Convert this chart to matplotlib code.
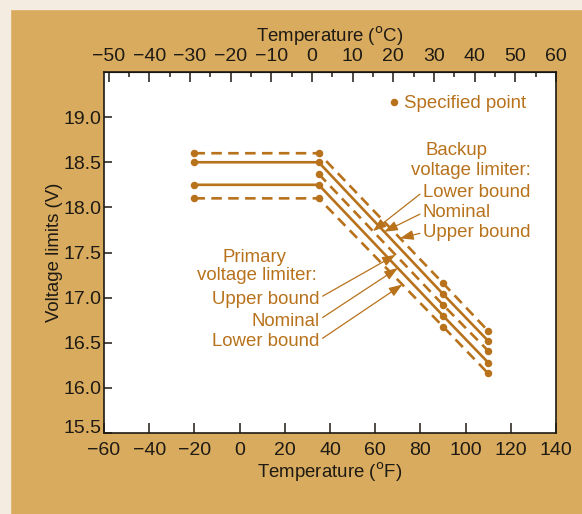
import matplotlib
matplotlib.use("Agg")
import matplotlib.pyplot as plt
import numpy as np

plt.rcParams['font.family'] = ['Liberation Sans', 'DejaVu Sans']

# voltage limit curves: temperature (deg F) vs volts
bk_upper_f = [-20, 35, 90, 110]
bk_upper_v = [18.60, 18.60, 17.16, 16.63]
bk_nom_f = [-20, 35, 90, 110]
bk_nom_v = [18.50, 18.50, 17.04, 16.52]
shared_f = [35, 90, 110]          # backup lower bound / primary upper bound
shared_v = [18.37, 16.92, 16.41]
pr_nom_f = [-20, 35, 90, 110]
pr_nom_v = [18.25, 18.25, 16.80, 16.28]
pr_lower_f = [-20, 35, 90, 110]
pr_lower_v = [18.10, 18.10, 16.68, 16.16]

f_ticks = np.arange(-60, 141, 20)
c_ticks = np.arange(-50, 61, 10)
c_minor = np.arange(-45, 60, 10)
v_ticks = np.arange(15.5, 19.01, 0.5)

backup_labels = ["Lower bound", "Nominal", "Upper bound"]
primary_labels = ["Upper bound", "Nominal", "Lower bound"]

BG = "#d9ab5e"
LINE = "#b8721c"
TXT = "#1e1a14"

fig = plt.figure(figsize=(5.82, 5.14), dpi=100, facecolor=BG)
# lighter scan margin along top and left
fig.patches.append(plt.Rectangle((0, 1 - 9 / 514), 1, 9 / 514, transform=fig.transFigure,
                                 color="#f4ece0", zorder=0))
fig.patches.append(plt.Rectangle((0, 0), 10 / 582, 1, transform=fig.transFigure,
                                 color="#f4ece0", zorder=0))

ax = fig.add_axes([104 / 582, 81 / 514, 452 / 582, 361 / 514])
ax.set_facecolor("white")

lw = 1.9
dash = (0, (4.0, 2.4))
curves = [
    (bk_upper_f, bk_upper_v, dash),
    (bk_nom_f, bk_nom_v, "-"),
    (shared_f, shared_v, dash),
    (pr_nom_f, pr_nom_v, "-"),
    (pr_lower_f, pr_lower_v, dash),
]
for fx, vy, ls in curves:
    ax.plot(fx, vy, color=LINE, lw=lw, linestyle=ls, solid_capstyle="butt")
    ax.plot(fx, vy, "o", color=LINE, ms=5.4, mec="none")

fs = 13.4
tfs = 14

# legend for the dots
hdl, = ax.plot([], [], "o", color=LINE, ms=5.4, mec="none", label="Specified point")
ax.legend(handles=[hdl], loc="upper right", bbox_to_anchor=(0.933, 0.935), frameon=False,
          labelcolor=LINE, fontsize=fs, handlelength=0.4, handletextpad=0.3,
          borderpad=0, borderaxespad=0)

ax.set_xlim(-60, 140)
ax.set_ylim(15.5, 19.5)
ax.set_xticks(f_ticks)
ax.set_yticks(v_ticks)
ax.set_yticklabels([f"{v:.1f}" for v in v_ticks])
ax.tick_params(axis="x", direction="in", length=7, width=1.1, labelsize=tfs, pad=6.5,
               colors=TXT)
ax.tick_params(axis="y", direction="in", length=6, width=1.1, labelsize=tfs, pad=2,
               colors=TXT)
# bottom y label sits on the axis line, as in the original
ax.get_yticklabels()[0].set_va("baseline")
for s in ax.spines.values():
    s.set_linewidth(1.2)
    s.set_color(TXT)
ax.set_xlabel("Temperature ($^{\\rm o}$F)", fontsize=fs, color=TXT, labelpad=1)
ax.set_ylabel("Voltage limits (V)", fontsize=fs, color=TXT, labelpad=0)

top = ax.secondary_xaxis("top", functions=(lambda f: (f - 32) * 5 / 9,
                                           lambda c: c * 9 / 5 + 32))
top.set_xticks(c_ticks)
top.set_xticks(c_minor, minor=True)
top.tick_params(axis="x", which="major", direction="in", length=7, width=1.1,
                labelsize=tfs, pad=5, colors=TXT)
top.tick_params(axis="x", which="minor", direction="in", length=3.5, width=1.1,
                colors=TXT)
top.set_xlabel("Temperature ($^{\\rm o}$C)", fontsize=fs, color=TXT, labelpad=4)

# backup limiter callouts
ax.text(96, 18.63, "Backup", color=LINE, fontsize=fs, ha="center", va="center")
ax.text(102.5, 18.41, "voltage limiter:", color=LINE, fontsize=fs, ha="center", va="center")
bk_targets = [(shared_f, shared_v, 59), (bk_nom_f, bk_nom_v, 64), (bk_upper_f, bk_upper_v, 71)]
bk_text_v = [18.17, 17.94, 17.72]
for lab, (fx, vy, t), tv in zip(backup_labels, bk_targets, bk_text_v):
    ax.annotate(lab, xy=(t, np.interp(t, fx, vy)), xytext=(81, tv), color=LINE,
                fontsize=fs, ha="left", va="center",
                arrowprops=dict(arrowstyle="-|>,head_length=0.6,head_width=0.22",
                                color=LINE, lw=0.9, shrinkA=0, shrinkB=0,
                                relpos=(0, 0.5)))

# primary limiter callouts
ax.text(6.5, 17.44, "Primary", color=LINE, fontsize=fs, ha="center", va="center")
ax.text(7.5, 17.25, "voltage limiter:", color=LINE, fontsize=fs, ha="center", va="center")
pr_targets = [(shared_f, shared_v, 69), (pr_nom_f, pr_nom_v, 70), (pr_lower_f, pr_lower_v, 72)]
pr_text_v = [16.98, 16.74, 16.51]
for lab, (fx, vy, t), tv in zip(primary_labels, pr_targets, pr_text_v):
    ax.annotate(lab, xy=(t, np.interp(t, fx, vy)), xytext=(35.5, tv), color=LINE,
                fontsize=fs, ha="right", va="center",
                arrowprops=dict(arrowstyle="-|>,head_length=0.6,head_width=0.22",
                                color=LINE, lw=0.9, shrinkA=0, shrinkB=0,
                                relpos=(1, 0.6)))

fig.savefig("out.png", dpi=100, facecolor=fig.get_facecolor())
